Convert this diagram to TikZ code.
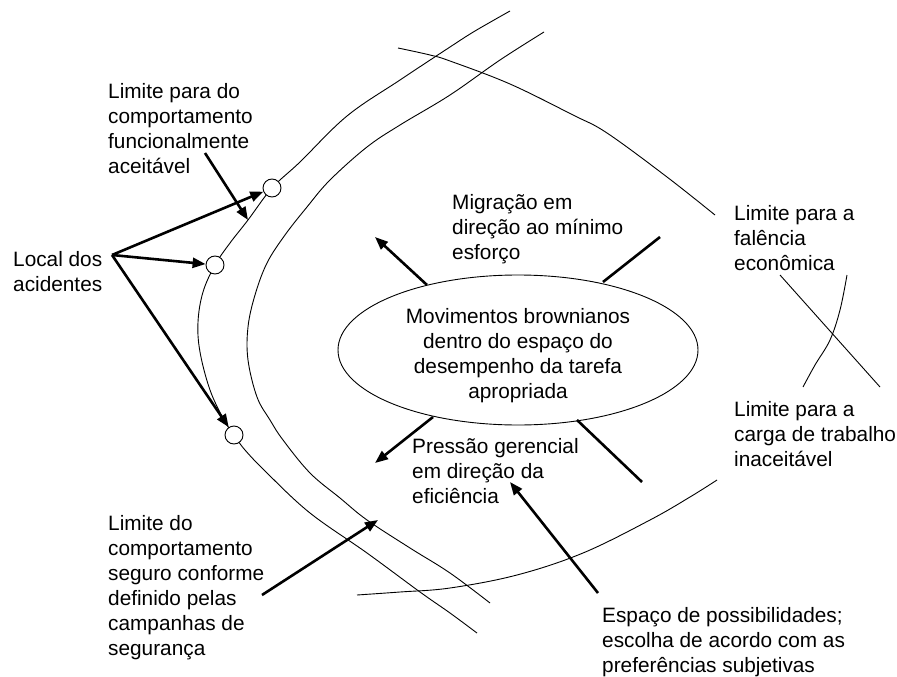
\documentclass[tikz,border=0pt]{standalone}
\usepackage{fontspec}
\setmainfont{Liberation Sans}
\usetikzlibrary{arrows.meta,shapes.geometric}
\begin{document}
\begin{tikzpicture}[x=1pt,y=-1pt,
  curve/.style={line width=0.9pt},
  bold/.style={line width=2.6pt},
  boldarrow/.style={line width=2.6pt,-{Triangle[length=13pt,width=10pt]}},
  txt/.style={font=\fontsize{20.8}{25}\selectfont, inner sep=0pt},
  lbl/.style={txt, align=left, anchor=base west},
  acc/.style={circle, draw, line width=0.9pt, minimum size=18pt, inner sep=0pt, fill=white}]
\useasboundingbox (0,0) rectangle (897,677);

% boundary curves
\draw[curve] plot[smooth, tension=0.6] coordinates {(510,11) (475,31) (450,47) (400,80) (347,116) (300,162) (272,188) (248,220) (230,243) (215,265) (203,292) (198,322) (200,352) (210,390) (224,420) (234,435) (245,450) (267,473) (310,513) (367,553) (420,592) (450,613) (477,633)};
\draw[curve] plot[smooth, tension=0.6] coordinates {(544,32) (500,60) (450,95) (400,125) (367,147) (330,180) (307,207) (285,235) (267,263) (255,295) (248,327) (248,360) (257,397) (270,420) (283,440) (310,473) (340,498) (367,520) (410,548) (450,573) (490,603)};
\draw[curve] plot[smooth, tension=0.6] coordinates {(398,48) (430,55) (450,61) (510,84) (573,115) (607,133) (667,177) (715,215)};
\draw[curve] plot[smooth, tension=0.6] coordinates {(357,595) (400,592) (450,588) (517,575) (583,553) (650,520) (690,497) (717,480)};
\draw[curve] (780,275) -- (880,387);
\draw[curve] plot[smooth, tension=0.6] coordinates {(847,275) (840,310) (830,340) (815,365) (803,387)};

% accident sites
\node[acc] (c1) at (272,188) {};
\node[acc] (c2) at (215,265) {};
\node[acc] (c3) at (234,435) {};

% central ellipse
\node[ellipse, draw, line width=0.9pt, minimum width=360pt, minimum height=150pt, inner sep=0pt] (brown) at (518,350) {};
\node[txt, align=center] (browntxt) at (518,356)
  {Movimentos brownianos\\dentro do espaço do\\desempenho da tarefa\\apropriada};

% labels (anchor = baseline of last line)
\node[lbl] (func) at (108,173) {Limite para do\\comportamento\\funcionalmente\\aceitável};
\node[lbl] (local) at (13,291) {Local dos\\acidentes};
\node[lbl] (migr) at (452,259) {Migração em\\direção ao mínimo\\esforço};
\node[lbl] (falen) at (734,270) {Limite para a\\falência\\econômica};
\node[lbl] (carga) at (734,466) {Limite para a\\carga de trabalho\\inaceitável};
\node[lbl] (press) at (412,503) {Pressão gerencial\\em direção da\\eficiência};
\node[lbl] (seguro) at (108,655) {Limite do\\comportamento\\seguro conforme\\definido pelas\\campanhas de\\segurança};
\node[lbl] (espaco) at (602,672) {Espaço de possibilidades;\\escolha de acordo com as\\preferências subjetivas};

% connector coordinates
\coordinate (lo) at (112,255);
\coordinate (fs) at (205,153);
\coordinate (ft) at (248,220);
\coordinate (ms) at (427,285);
\coordinate (mt) at (375,237);
\coordinate (us) at (603,282);
\coordinate (ue) at (660,237);
\coordinate (ps) at (433,417);
\coordinate (pt) at (375,463);
\coordinate (ls) at (577,420);
\coordinate (le) at (642,482);
\coordinate (es) at (598,593);
\coordinate (et) at (510,482);
\coordinate (ss) at (262,595);
\coordinate (st) at (378,520);

% arrows
\draw[boldarrow] (lo) -- (c1);
\draw[boldarrow] (lo) -- (c2);
\draw[boldarrow] (lo) -- (c3);
\draw[boldarrow] (fs) -- (ft);
\draw[boldarrow] (ms) -- (mt);
\draw[bold] (us) -- (ue);
\draw[boldarrow] (ps) -- (pt);
\draw[bold] (ls) -- (le);
\draw[boldarrow] (es) -- (et);
\draw[boldarrow] (ss) -- (st);
\end{tikzpicture}
\end{document}
